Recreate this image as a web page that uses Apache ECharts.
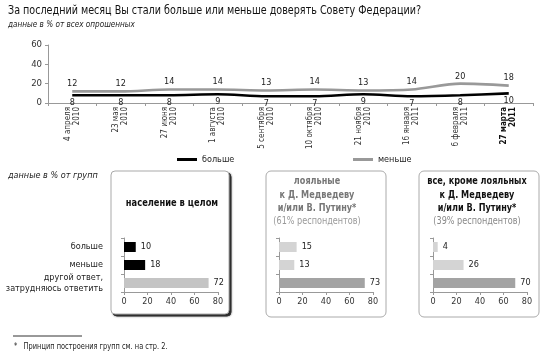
<!DOCTYPE html>
<html><head><meta charset="utf-8">
<script src="https://cdn.jsdelivr.net/npm/echarts@6/dist/echarts.min.js"></script>
<style>html,body{margin:0;padding:0;background:#fff}#c{width:550px;height:354px}</style>
</head><body><div id="c"></div>
<script>
var FONT = "'Liberation Sans Narrow','DejaVu Sans Condensed','Liberation Sans',sans-serif";
var dates = ['4 апреля\n2010','23 мая\n2010','27 июня\n2010','1 августа\n2010','5 сентября\n2010','10 октября\n2010','21 ноября\n2010','16 января\n2011','6 февраля\n2011','27 марта\n2011'];
var more = [8,8,8,9,7,7,9,7,8,10];
var less = [12,12,14,14,13,14,13,14,20,18];
var yTicks = [0,20,40,60];
var barCats = ['больше','меньше','другой ответ,\nзатрудняюсь ответить'];
var allPop = [10,18,72];
var loyal = [15,13,73];
var nonLoyal = [4,26,70];

var chart = echarts.init(document.getElementById('c'), null, {renderer:'canvas'});

function barGrid(i, left){ return {left:left, width:94, top:238, height:54}; }
function xVal(i){
  return {type:'value', gridIndex:i, min:0, max:80, interval:20,
    axisLine:{show:true, lineStyle:{color:'#999'}},
    axisTick:{show:true, length:3, lineStyle:{color:'#999'}},
    splitLine:{show:false},
    axisLabel:{fontSize:9, color:'#333', margin:5, fontFamily:FONT}};
}
function yCat(i, showLabel){
  return {type:'category', gridIndex:i, data:barCats, inverse:true,
    axisLine:{show:true, lineStyle:{color:'#999'}},
    axisTick:{show:true, length:3, lineStyle:{color:'#999'}},
    axisLabel:{show:showLabel, fontSize:9, color:'#222', margin:21, align:'right', lineHeight:11, fontFamily:FONT}};
}
function barSeries(i, data, colors){
  return {type:'bar', xAxisIndex:i, yAxisIndex:i, barWidth:10,
    data: data.map(function(v,k){ return {value:v, itemStyle:{color:colors[k]}}; }),
    label:{show:true, position:'right', distance:5, fontSize:9, color:'#222', fontFamily:FONT},
    silent:true, animation:false};
}

var option = {
  animation:false,
  textStyle:{fontFamily:FONT},
  grid:[
    {left:48, right:17, top:45, bottom:251},
    barGrid(1,124), barGrid(2,279), barGrid(3,433)
  ],
  legend:[
    {data:['больше'], left:172, top:150, icon:'rect', itemWidth:20, itemHeight:3,
     textStyle:{fontSize:9, color:'#222', fontFamily:FONT}},
    {data:['меньше'], left:348, top:150, icon:'rect', itemWidth:20, itemHeight:3,
     textStyle:{fontSize:9, color:'#222', fontFamily:FONT}}
  ],
  xAxis:[
    {type:'category', gridIndex:0, data:dates, boundaryGap:true,
     axisLine:{lineStyle:{color:'#999'}},
     axisTick:{show:true, length:3, lineStyle:{color:'#999'}},
     axisLabel:{rotate:90, fontSize:8, color:'#333', margin:4, lineHeight:9, interval:0, fontFamily:FONT,
       formatter:function(v, idx){
         if (idx === dates.length-1) { return v.split('\n').map(function(s){return '{b|'+s+'}';}).join('\n'); }
         return v; },
       rich:{b:{fontWeight:'bold', fontSize:8, color:'#111', lineHeight:9, fontFamily:FONT}}}},
    xVal(1), xVal(2), xVal(3)
  ],
  yAxis:[
    {type:'value', gridIndex:0, min:yTicks[0], max:yTicks[yTicks.length-1], interval:20,
     axisLine:{show:true, lineStyle:{color:'#999'}},
     axisTick:{show:true, length:3, lineStyle:{color:'#999'}},
     splitLine:{show:false},
     axisLabel:{fontSize:9.5, color:'#333', margin:6, fontFamily:FONT}},
    yCat(1,true), yCat(2,false), yCat(3,false)
  ],
  series:[
    {name:'больше', type:'line', xAxisIndex:0, yAxisIndex:0, data:more, smooth:0.3,
     showSymbol:true, symbol:'circle', symbolSize:0.01, lineStyle:{color:'#000', width:2.6}, itemStyle:{color:'#000'},
     label:{show:true, position:'bottom', distance:3, fontSize:9, color:'#222', fontFamily:FONT}, z:3},
    {name:'меньше', type:'line', xAxisIndex:0, yAxisIndex:0, data:less, smooth:0.3,
     showSymbol:true, symbol:'circle', symbolSize:0.01, lineStyle:{color:'#999', width:2.6}, itemStyle:{color:'#999'},
     label:{show:true, position:'top', distance:3, fontSize:9, color:'#222', fontFamily:FONT}, z:2},
    barSeries(1, allPop, ['#000','#000','#c4c4c4']),
    barSeries(2, loyal, ['#d4d4d4','#d4d4d4','#a3a3a3']),
    barSeries(3, nonLoyal, ['#d4d4d4','#d4d4d4','#a3a3a3'])
  ],
  graphic:[
    {type:'text', x:8, y:4, scaleX:0.82, style:{text:'За последний месяц Вы стали больше или меньше доверять Совету Федерации?', font:'13px '+FONT, fill:'#111'}},
    {type:'text', x:8, y:20, scaleX:0.9, style:{text:'данные в % от всех опрошенных', font:'italic 9px '+FONT, fill:'#222'}},
    {type:'text', left:8, top:171, style:{text:'данные в % от групп', font:'italic 9px '+FONT, fill:'#222'}},
    {type:'rect', shape:{x:113, y:173, width:118, height:143, r:4}, z:-2,
     style:{fill:'#333', stroke:'#333', lineWidth:1, shadowBlur:2, shadowColor:'rgba(0,0,0,0.5)'}},
    {type:'rect', shape:{x:111, y:171, width:118, height:143, r:4}, z:-1,
     style:{fill:'#fff', stroke:'#aaa', lineWidth:1}},
    {type:'rect', shape:{x:266, y:171, width:120, height:146, r:5}, z:-1,
     style:{fill:'#fff', stroke:'#aaa', lineWidth:1}},
    {type:'rect', shape:{x:419, y:171, width:120, height:146, r:5}, z:-1,
     style:{fill:'#fff', stroke:'#aaa', lineWidth:1}},
    {type:'text', x:172, y:203, scaleX:0.88, style:{text:'население в целом', font:'bold 10.5px '+FONT, fill:'#111', textAlign:'center', textVerticalAlign:'middle'}},
    {type:'text', x:317, y:175, scaleX:0.86, style:{text:'лояльные\nк Д. Медведеву\nи/или В. Путину*', font:'bold 10.5px '+FONT, fill:'#777', textAlign:'center', lineHeight:13.5}},
    {type:'text', x:317, y:216, scaleX:0.9, style:{text:'(61% респондентов)', font:'10px '+FONT, fill:'#999', textAlign:'center'}},
    {type:'text', x:477, y:175, scaleX:0.86, style:{text:'все, кроме лояльных\nк Д. Медведеву\nи/или В. Путину*', font:'bold 10.5px '+FONT, fill:'#111', textAlign:'center', lineHeight:13.5}},
    {type:'text', x:477, y:216, scaleX:0.9, style:{text:'(39% респондентов)', font:'10px '+FONT, fill:'#888', textAlign:'center'}},
    {type:'line', shape:{x1:13, y1:336, x2:82, y2:336}, style:{stroke:'#333', lineWidth:1}},
    {type:'text', x:14, y:343, scaleX:0.92, style:{text:'*   Принцип построения групп см. на стр. 2.', font:'8px '+FONT, fill:'#222'}}
  ]
};
chart.setOption(option);
</script></body></html>
